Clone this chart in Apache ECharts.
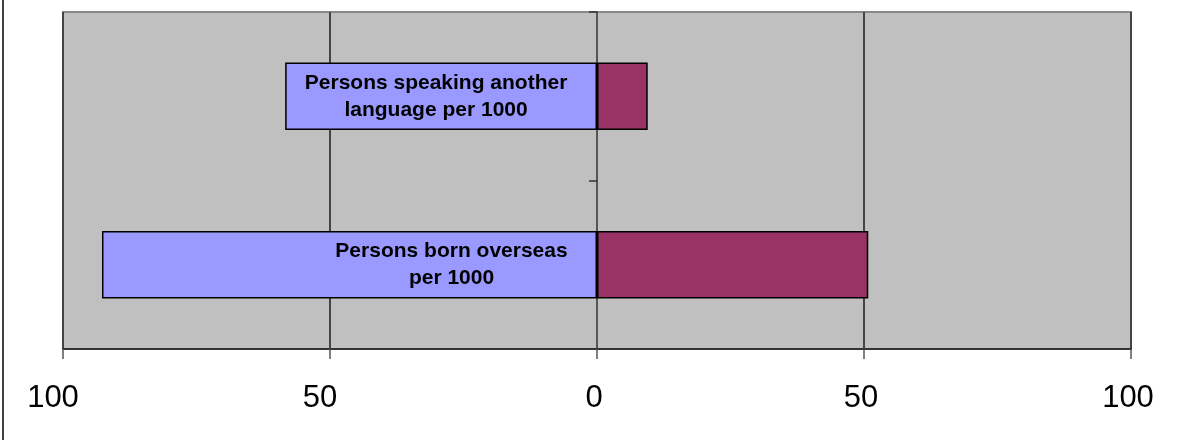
<!DOCTYPE html>
<html>
<head>
<meta charset="utf-8">
<script src="https://cdn.jsdelivr.net/npm/echarts@6/dist/echarts.min.js"></script>
<style>
  html, body { margin: 0; padding: 0; background: #fff; }
  #chart { width: 1188px; height: 440px; position: relative; }
  #edge { position: absolute; left: 2px; top: 0; width: 2px; height: 440px; background: #404040; z-index: 5; }
</style>
</head>
<body>
<div id="chart"></div>
<div id="edge"></div>
<script>
// Categories (bottom to top, as ECharts draws a vertical category axis)
const categories = ['Persons born overseas\nper 1000', 'Persons speaking another\nlanguage per 1000'];
// Left (blue) bars, drawn to the left of zero
const leftValues = [92.7, 58.4];
// Right (maroon) bars
const rightValues = [50.8, 9.5];
// Value axis ticks
const axisMin = -100, axisMax = 100, axisStep = 50;

const chart = echarts.init(document.getElementById('chart'), null, { renderer: 'canvas' });

const labelShift = [102, -5];

chart.setOption({
  animation: false,
  backgroundColor: '#ffffff',
  grid: {
    left: 63, right: 57, top: 12, bottom: 91,
    show: true,
    backgroundColor: '#C0C0C0',
    borderColor: '#888888',
    borderWidth: 2
  },
  xAxis: {
    type: 'value',
    min: axisMin, max: axisMax, interval: axisStep,
    axisLine: { show: true, lineStyle: { color: '#333333', width: 2 } },
    axisTick: { show: true, length: 10, lineStyle: { color: '#555555', width: 1.5 } },
    axisLabel: {
      formatter: v => (v < 0 ? '{n|' : '{p|') + Math.abs(v) + '}',
      color: '#000000',
      fontFamily: 'Arial, "Liberation Sans", sans-serif',
      fontSize: 31,
      margin: 34,
      rich: {
        n: { fontSize: 31, fontFamily: 'Arial, "Liberation Sans", sans-serif', color: '#000000', padding: [0, 20, 0, 0] },
        p: { fontSize: 31, fontFamily: 'Arial, "Liberation Sans", sans-serif', color: '#000000', padding: [0, 6, 0, 0] }
      }
    },
    splitLine: { show: true, lineStyle: { color: '#444444', width: 2 } }
  },
  yAxis: {
    type: 'category',
    data: categories,
    axisLine: { show: true, onZero: true, lineStyle: { color: '#555555', width: 2 } },
    axisTick: { show: true, length: 8, lineStyle: { color: '#333333', width: 1.5 } },
    axisLabel: { show: false },
    splitLine: { show: false }
  },
  series: [
    {
      name: 'Left',
      type: 'bar',
      stack: 'total',
      barWidth: '40%',
      itemStyle: { color: '#9999FF', borderColor: '#000000', borderWidth: 1.5 },
      label: {
        show: true,
        position: 'inside',
        formatter: p => categories[p.dataIndex],
        color: '#000000',
        fontFamily: 'Arial, "Liberation Sans", sans-serif',
        fontWeight: 'bold',
        fontSize: 21,
        lineHeight: 27,
        align: 'center'
      },
      data: leftValues.map((v, i) => ({ value: -v, label: { offset: [labelShift[i], 0] } }))
    },
    {
      name: 'Right',
      type: 'bar',
      stack: 'total',
      barWidth: '40%',
      itemStyle: { color: '#993366', borderColor: '#000000', borderWidth: 1.5 },
      data: rightValues
    }
  ]
});
</script>
</body>
</html>
